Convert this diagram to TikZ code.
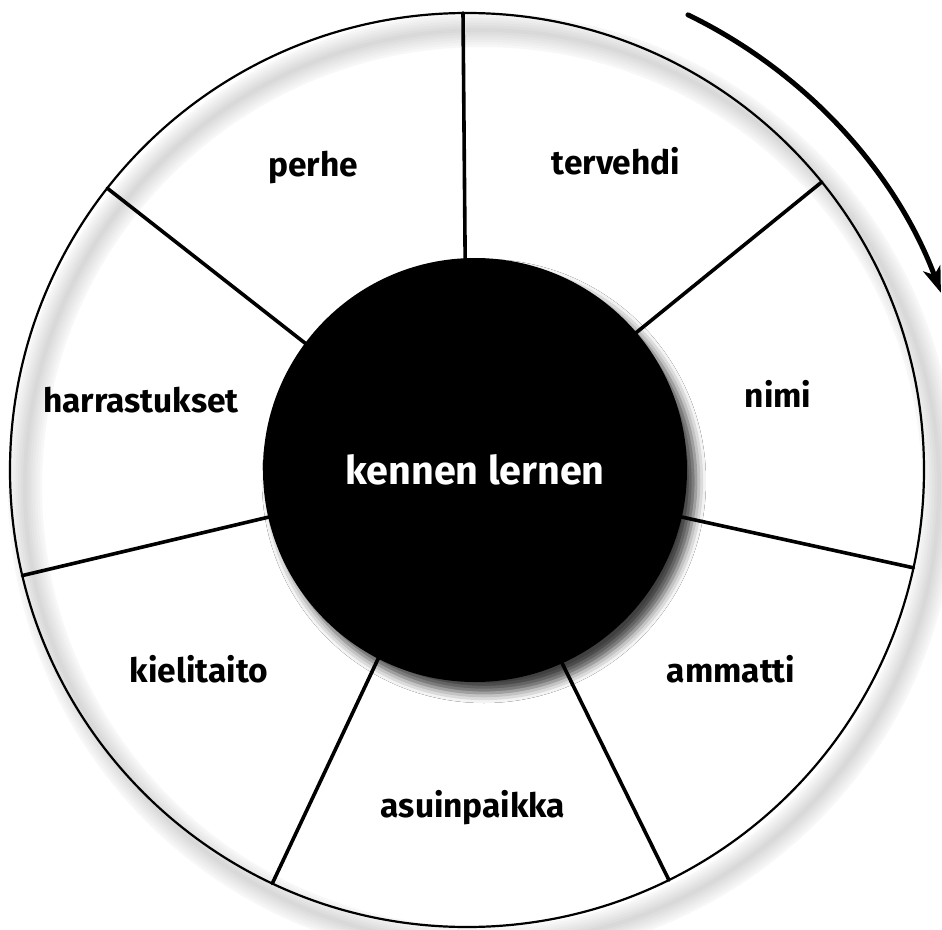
\documentclass[tikz,border=0pt]{standalone}
\usepackage{fontspec}
\setmainfont{Fira Sans}
\usepackage{tikz}
\usetikzlibrary{arrows.meta,calc,shadows.blur}

\begin{document}
\begin{tikzpicture}[x=1pt,y=1pt,>=Stealth,line cap=round,line join=round,
  spoke/.style={line width=3.6pt,black},
  rim/.style={line width=2.2pt,black},
  seglabel/.style={font=\fontsize{33.5}{38}\selectfont\bfseries,
   inner sep=0pt,anchor=base},
  hub/.style={circle,fill=black,draw=none,minimum size=424pt,inner sep=0pt,
   text=white,font=\fontsize{39.5}{46}\selectfont\bfseries,
   blur shadow={shadow xshift=9pt,shadow yshift=-11pt,
    shadow blur radius=10pt,shadow opacity=75}}]
 \useasboundingbox[fill=white] (-467,-459) rectangle (475,470);
 \coordinate (o) at (0,0);
 % shadow of the rim
 \foreach \w/\g in {34/3,29/5,24/7,19/9,14/11,9/13,4/15}
  \draw[line width=\w pt,black!\g] ($(o)+(15,-17)$) circle[radius=457pt];
 % spokes
 \foreach \i in {0,...,6}
  \draw[spoke] (o) -- ($(o)+({90.5-\i*360/7}:457)$);
 \draw[rim] (o) circle[radius=457pt];
 \node[hub] (hub) at (8,0) {kennen lernen};
 % segment labels
 \node[seglabel] (tervehdi) at (149,295) {tervehdi};
 \node[seglabel] (nimi) at (311,63) {nimi};
 \node[seglabel] (ammatti) at (264,-212) {ammatti};
 \node[seglabel] (asuinpaikka) at (6,-347) {asuinpaikka};
 \node[seglabel] (kielitaito) at (-268,-212) {kielitaito};
 \node[seglabel] (harrastukset) at (-326,58) {harrastukset};
 \node[seglabel] (perhe) at (-154,293) {perhe};
 % direction of the round
 \draw[->,line width=5pt,arrows={-Stealth[length=26pt,width=18pt,inset=7pt]}]
  ($(o)+(64.1:506)$) arc[start angle=64.1,end angle=20.5,radius=506pt];
\end{tikzpicture}
\end{document}
